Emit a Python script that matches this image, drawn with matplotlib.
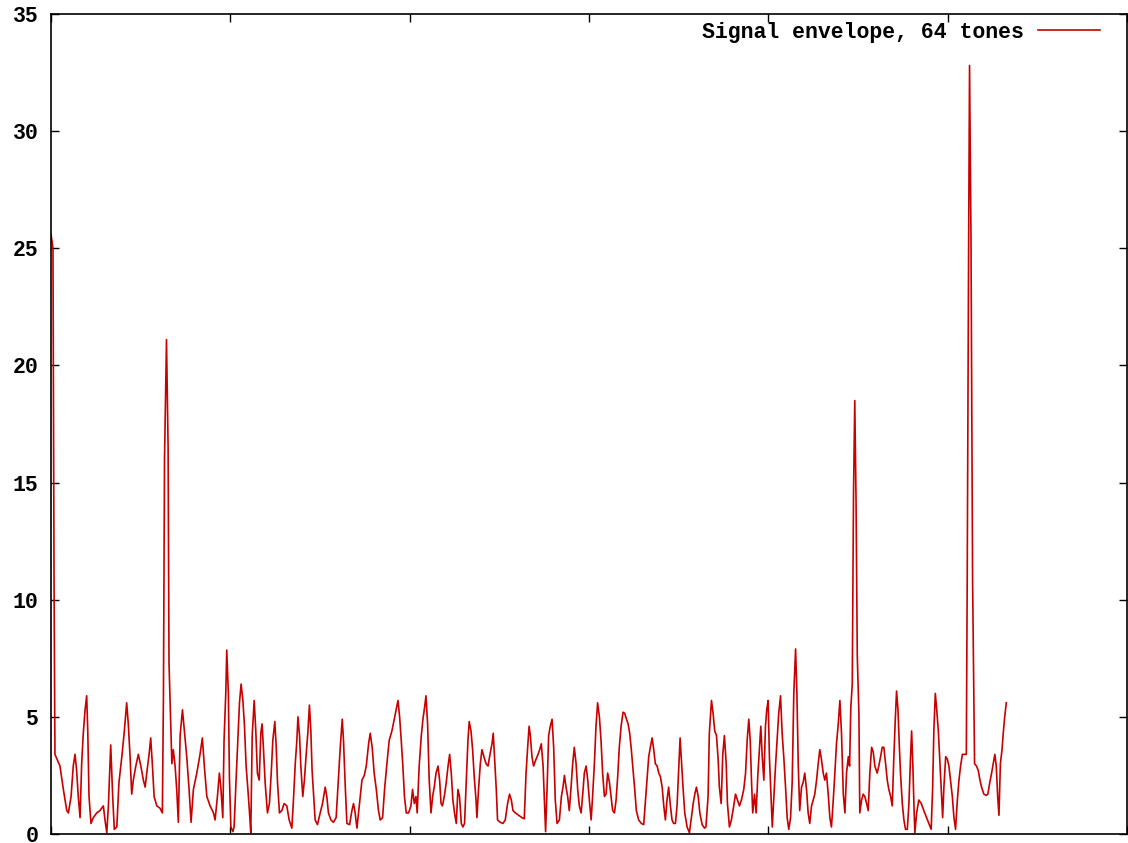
import matplotlib
matplotlib.use("Agg")
import matplotlib.pyplot as plt

# Envelope of a 64-tone multicarrier signal (positions in samples, magnitude)
sample_pos = [
    0.0, 1.1, 1.7, 2.2, 5.0, 6.9, 8.8, 9.7, 11.2, 12.4, 13.4, 14.3, 15.2, 16.2, 17.1, 18.0,
    19.0, 19.9, 20.5, 21.2, 22.3, 23.6, 25.5, 27.3, 29.2, 30.1, 31.1, 32.0, 33.3, 34.4, 35.3,
    36.7, 37.9, 39.5, 40.9, 42.2, 43.1, 44.1, 45.0, 45.9, 47.3, 48.7, 50.1, 51.5, 52.5, 53.4,
    54.7, 55.6, 56.5, 57.5, 59.0, 60.8, 62.1, 62.7, 63.3, 64.4, 65.3, 65.8, 67.4, 68.2, 69.2,
    70.1, 71.0, 72.0, 73.3, 74.4, 75.7, 77.0, 78.1, 79.4, 81.3, 83.1, 84.4, 85.5, 86.9, 88.7,
    90.6, 91.5, 92.8, 93.9, 94.7, 95.8, 96.5, 97.5, 98.0, 98.9, 99.5, 100.3, 101.4, 102.1,
    103.2, 104.2, 105.1, 106.0, 107.0, 107.9, 108.8, 109.8, 110.7, 111.4, 112.2, 113.3, 114.2,
    115.1, 116.1, 117.0, 117.7, 118.5, 119.4, 120.7, 121.8, 122.8, 123.7, 124.8, 125.6, 126.3,
    127.4, 128.7, 130.0, 131.5, 132.8, 134.3, 135.2, 136.2, 137.1, 137.7, 138.6, 139.3, 140.4,
    141.3, 142.3, 143.2, 144.1, 144.9, 145.6, 146.4, 147.3, 148.6, 150.1, 151.4, 152.9, 153.8,
    154.7, 156.1, 157.5, 159.0, 160.0, 161.3, 162.4, 163.1, 164.1, 165.0, 166.5, 167.8, 168.7,
    169.6, 170.6, 171.9, 173.4, 174.7, 175.8, 177.1, 178.0, 179.1, 180.2, 181.4, 182.6, 183.6,
    184.9, 186.0, 187.3, 188.6, 190.1, 191.4, 192.5, 193.5, 194.4, 195.3, 196.2, 197.1, 198.1,
    199.4, 200.7, 201.6, 202.6, 203.5, 204.2, 205.3, 206.5, 207.4, 208.3, 209.1, 210.0, 210.9,
    211.9, 212.8, 213.7, 214.7, 215.8, 216.7, 217.5, 218.3, 219.5, 220.4, 221.4, 222.3, 223.2,
    224.1, 225.0, 226.0, 226.9, 227.8, 228.8, 229.7, 230.6, 231.6, 232.5, 233.2, 234.2, 235.1,
    236.0, 237.0, 237.5, 238.4, 239.4, 240.3, 241.4, 242.6, 243.7, 244.8, 245.9, 246.6, 247.4,
    248.3, 249.0, 250.5, 252.0, 253.3, 254.6, 255.7, 256.7, 257.6, 258.9, 260.7, 262.6, 263.9,
    264.9, 265.8, 266.6, 267.3, 268.2, 269.1, 270.5, 271.6, 272.5, 273.4, 274.4, 275.1, 275.8,
    276.6, 277.5, 278.4, 279.4, 280.3, 281.2, 282.2, 283.5, 284.6, 285.5, 286.3, 287.2, 288.1,
    289.0, 290.0, 290.9, 291.8, 292.8, 293.7, 294.6, 295.6, 296.5, 297.4, 298.4, 299.3, 300.2,
    301.2, 302.0, 303.0, 303.9, 304.8, 305.8, 306.7, 307.6, 308.6, 309.5, 310.4, 311.4, 312.3,
    313.2, 314.2, 315.1, 316.0, 316.9, 317.9, 319.0, 319.9, 320.9, 321.8, 322.7, 323.6, 324.6,
    325.5, 326.4, 327.7, 329.2, 330.5, 331.5, 332.4, 333.3, 334.2, 335.2, 336.1, 337.0, 338.0,
    338.9, 339.8, 340.8, 341.7, 342.6, 343.5, 344.4, 345.4, 346.3, 347.2, 348.2, 349.1, 350.0,
    350.8, 351.5, 352.5, 353.4, 354.7, 356.0, 356.9, 358.1, 359.0, 359.9, 360.9, 361.8, 363.1,
    364.4, 365.2, 366.4, 367.1, 368.3, 369.2, 370.1, 371.1, 372.0, 372.7, 373.7, 374.6, 375.5,
    376.5, 377.2, 378.3, 379.4, 380.7, 381.7, 382.8, 383.9, 385.0, 386.3, 387.3, 388.2, 389.1,
    389.9, 390.6, 391.3, 392.3, 393.2, 394.1, 395.1, 395.8, 396.6, 397.5, 398.4, 399.1, 399.9,
    400.6, 401.6, 402.2, 403.0, 404.0, 404.9, 405.8, 406.8, 407.7, 408.6, 409.6, 410.5, 411.4,
    412.4, 413.3, 414.2, 415.2, 415.9, 416.7, 417.5, 418.5, 419.4, 420.3, 421.3, 422.2, 423.1,
    424.1, 425.0, 425.9, 426.9, 427.8, 428.7, 429.6, 430.6, 431.5, 432.4, 433.4, 434.3, 435.2,
    436.2, 437.1, 438.0, 439.0, 439.9, 440.8, 441.8, 442.7, 443.6, 444.6, 445.3, 446.0, 446.8,
    447.5, 448.2, 448.9, 449.6, 450.5, 451.0, 452.0, 452.9, 453.8, 454.8, 455.7, 456.6, 457.6,
    458.5, 459.4, 460.7, 461.6, 462.6, 463.5, 464.4, 465.4, 466.3, 467.2, 468.2, 469.1, 470.0,
    470.8, 471.5, 472.3, 473.0, 473.7, 474.7, 475.6, 476.5, 477.5, 478.4, 479.3, 479.9, 480.6,
    481.2, 481.7, 482.7, 483.9, 485.3, 486.7, 488.2, 489.5, 490.8, 491.6, 492.3, 493.1, 493.8,
    494.8, 495.7, 496.4, 497.2, 497.9, 498.9, 499.8, 500.7, 501.6, 502.6, 503.5, 504.4, 505.4,
    506.3, 507.2, 508.2, 509.4, 510.4, 510.9, 511.7, 512.2, 513.0, 513.9, 515.0, 516.1, 517.1,
    518.0, 518.9, 520.2, 521.5, 522.4, 523.5, 524.5, 525.4, 526.3, 527.1, 527.9, 528.6, 529.4,
    530.3, 531.0, 531.8, 532.7,
]

envelope = [
    25.6, 25.0, 10.8, 3.4, 2.9, 1.9, 1.0, 0.9, 1.6, 2.9, 3.4, 2.7, 1.6, 0.7, 3.0, 4.3,
    5.3, 5.9, 4.4, 1.6, 0.45, 0.7, 0.9, 1.0, 1.2, 0.6, 0.05, 1.2, 3.8, 1.6, 0.2,
    0.3, 2.2, 3.3, 4.4, 5.6, 4.7, 3.3, 1.7, 2.3, 2.9, 3.4, 2.9, 2.3, 2.0, 2.6,
    3.4, 4.1, 3.0, 1.6, 1.2, 1.1, 0.9, 5.9, 16.0, 21.1, 16.5, 7.3, 3.0, 3.6, 2.9,
    1.9, 0.5, 4.2, 5.3, 4.4, 3.3, 1.9, 0.5, 1.9, 2.6, 3.4, 4.1, 2.9, 1.6, 1.2,
    0.9, 0.6, 1.6, 2.6, 2.0, 0.7, 4.0, 6.1, 7.85, 6.0, 2.4, 0.3, 0.1, 0.3,
    2.3, 4.0, 5.6, 6.4, 5.7, 4.6, 2.9, 1.9, 0.9, 0.05, 4.2, 5.7, 4.4,
    2.6, 2.3, 4.3, 4.7, 3.6, 2.2, 0.9, 1.3, 2.6, 4.0, 4.8, 3.7, 2.2,
    0.9, 1.0, 1.3, 1.2, 0.6, 0.25, 1.45, 3.0, 4.0, 5.0, 4.2, 2.9, 1.6,
    2.3, 3.4, 4.3, 5.5, 4.4, 2.7, 1.7, 0.6, 0.4, 0.9, 1.3, 2.0, 1.6,
    0.9, 0.6, 0.5, 0.7, 2.0, 3.7, 4.9, 4.0, 2.0, 0.45, 0.4, 1.0, 1.3,
    0.9, 0.25, 1.2, 2.3, 2.5, 2.9, 3.85, 4.3, 3.7, 2.6, 1.9, 1.0, 0.6,
    0.7, 1.9, 3.0, 4.0, 4.4, 4.9, 5.3, 5.7, 5.0, 4.0, 2.9, 1.6, 0.9,
    0.9, 1.2, 1.9, 1.3, 1.6, 0.9, 2.9, 4.2, 4.9, 5.4, 5.9, 4.7, 2.3,
    0.9, 1.6, 2.0, 2.6, 2.9, 2.3, 1.3, 1.2, 1.7, 2.2, 2.9, 3.4, 2.6,
    1.45, 0.9, 0.45, 1.9, 1.6, 0.45, 0.3, 0.45, 2.3, 4.0, 4.8, 4.4, 3.6,
    2.45, 1.45, 0.7, 1.9, 3.0, 3.6, 3.3, 3.0, 2.9, 3.4, 3.85, 4.3, 3.2,
    1.9, 0.6, 0.5, 0.45, 0.6, 1.3, 1.7, 1.45, 1.0, 0.9, 0.8, 0.7, 0.65,
    2.6, 3.7, 4.6, 4.2, 3.3, 2.9, 3.2, 3.4, 3.6, 3.85, 2.9, 1.45, 0.1,
    1.9, 4.2, 4.6, 4.9, 3.7, 1.45, 0.45, 0.6, 1.6, 2.0, 2.5, 2.0, 1.6,
    1.0, 2.0, 3.0, 3.7, 3.0, 1.9, 1.2, 0.9, 1.7, 2.6, 2.9, 2.3, 1.45,
    0.6, 1.6, 3.0, 4.6, 5.6, 5.0, 4.0, 2.6, 1.6, 1.7, 2.6, 2.2, 1.6,
    1.0, 0.9, 1.45, 2.45, 3.7, 4.6, 5.2, 5.15, 4.9, 4.7, 4.3, 3.6, 2.7,
    1.9, 1.0, 0.6, 0.45, 0.4, 1.45, 2.45, 3.3, 3.7, 4.1, 3.6, 3.0, 2.9,
    2.6, 2.45, 2.0, 1.2, 0.6, 1.45, 2.0, 1.2, 0.6, 0.45, 0.45, 1.2, 2.7,
    4.1, 3.2, 1.9, 0.9, 0.3, 0.05, 0.6, 1.3, 1.7, 2.0, 1.6, 0.9, 0.4,
    0.25, 0.3, 1.6, 4.3, 5.7, 5.15, 4.4, 4.2, 3.2, 2.0, 1.3, 3.4, 4.2,
    3.0, 1.3, 0.3, 0.6, 1.2, 1.7, 1.45, 1.2, 1.45, 1.9, 2.6, 4.0, 4.9,
    4.0, 2.3, 0.9, 1.7, 0.9, 2.45, 3.7, 4.6, 3.3, 2.3, 4.6, 5.3, 5.7,
    3.3, 1.45, 0.3, 1.45, 2.9, 4.0, 5.15, 5.9, 4.3, 3.3, 2.0, 0.7, 0.2,
    0.7, 2.2, 6.0, 7.9, 6.1, 2.9, 1.0, 2.0, 2.2, 2.6, 1.9, 0.9, 0.45,
    1.2, 1.45, 1.7, 2.3, 3.0, 3.6, 3.2, 2.6, 2.3, 2.6, 1.7, 0.7, 0.3,
    1.45, 2.6, 3.85, 4.7, 5.7, 4.3, 1.7, 0.9, 2.6, 3.3, 2.9, 5.4, 6.4,
    14.5, 18.5, 14.3, 7.6, 5.15, 0.9, 1.45, 1.7, 1.6, 1.3, 1.0, 2.6, 3.7,
    3.5, 2.9, 2.6, 2.9, 3.3, 3.7, 3.7, 3.0, 2.3, 1.9, 1.6, 1.2, 3.3,
    4.9, 6.1, 5.3, 3.85, 2.6, 1.3, 0.6, 0.2, 0.2, 1.3, 3.3, 4.4, 2.9,
    1.2, 0.05, 0.9, 1.45, 1.3, 1.0, 0.7, 0.45, 0.2, 1.9, 4.4, 6.0, 5.4,
    4.4, 3.0, 1.9, 0.7, 2.0, 3.3, 3.2, 2.9, 2.3, 1.6, 0.7, 0.2, 1.45,
    2.3, 2.9, 3.4, 3.4, 3.4, 10.8, 25.3, 32.8, 25.5, 10.8, 3.0, 2.9, 2.7,
    2.3, 2.0, 1.7, 1.65, 1.7, 2.2, 2.6, 3.0, 3.4, 2.9, 1.6, 0.8, 3.0,
    3.6, 4.3, 5.0, 5.6,
]

y_ticks = [0, 5, 10, 15, 20, 25, 30, 35]
x_ticks = [0, 100, 200, 300, 400, 500, 600]

fig = plt.figure(figsize=(11.28, 8.43), dpi=100)
ax = fig.add_axes([51 / 1128, 9 / 843, 1076 / 1128, 820 / 843])

ax.plot(sample_pos, envelope, color="#c80000", linewidth=1.2,
        label="Signal envelope, 64 tones")

ax.set_xlim(0, 600)
ax.set_ylim(0, 35)
ax.set_xticks(x_ticks)
ax.set_xticklabels([])
ax.set_yticks(y_ticks)
ax.set_yticklabels([str(v) for v in y_ticks],
                   fontfamily="Liberation Mono", fontweight="bold", fontsize=15.5)
ax.tick_params(axis="both", direction="in", length=6, width=1, color="black",
               top=True, right=True, pad=9)
for spine in ax.spines.values():
    spine.set_linewidth(1.2)
    spine.set_color("black")

ax.legend(loc="center right", bbox_to_anchor=(0.975, 0.978), frameon=False,
          markerfirst=False, handlelength=2.9, handletextpad=0.65,
          borderpad=0, borderaxespad=0,
          prop={"family": "Liberation Mono", "weight": "bold", "size": 15.5})

fig.savefig("out.png", dpi=100, facecolor="white")
